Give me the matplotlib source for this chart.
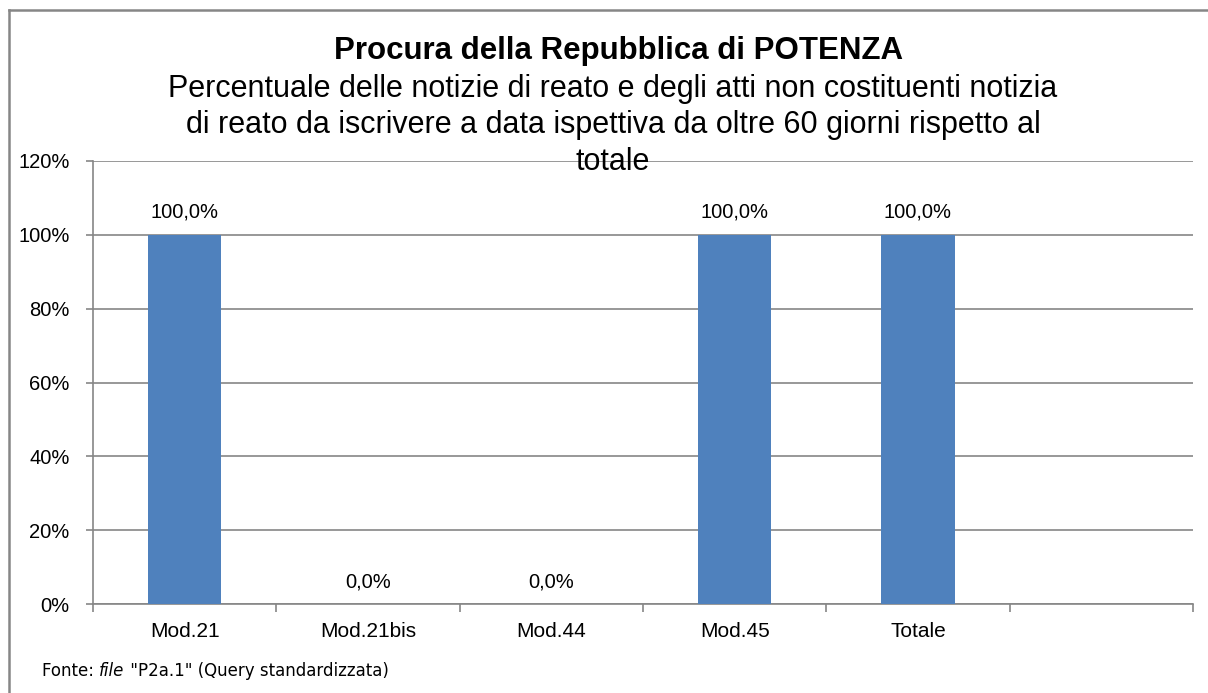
import numpy as np
import matplotlib.pyplot as plt
from matplotlib.lines import Line2D
from matplotlib.ticker import FuncFormatter

categories = ["Mod.21", "Mod.21bis", "Mod.44", "Mod.45", "Totale"]
values = [100.0, 0.0, 0.0, 100.0, 100.0]
n_slots = 6  # Excel leaves an empty sixth slot at the right

title = "Procura della Repubblica di POTENZA"
subtitle_lines = ["Percentuale delle notizie di reato e degli atti non costituenti notizia",
                  "di reato da iscrivere a data ispettiva da oltre 60 giorni rispetto al",
                  "totale"]
source_parts = ["Fonte: ", "file", ' "P2a.1" (Query standardizzata)']

plt.rcParams['font.family'] = ['Liberation Sans', 'DejaVu Sans']
grey = "#868686"
W, H = 1208, 693

fig = plt.figure(figsize=(W / 100, H / 100), dpi=100)
ax = fig.add_axes([93 / W, 1 - 604 / H, 1100 / W, 443 / H])

x = np.arange(len(categories))
ax.bar(x, values, width=0.4, color="#4F81BD", zorder=3)
for xi, v in zip(x, values):
    ax.text(xi, v + 4.6, f"{v:.1f}%".replace(".", ","), ha="center", va="baseline",
            fontsize=14.5, zorder=4)

ax.set_xlim(-0.5, n_slots - 0.5)
ax.set_ylim(0, 120)
ax.set_yticks(np.arange(0, 121, 20))
ax.yaxis.set_major_formatter(FuncFormatter(lambda v, p: f"{v:.0f}%"))
ax.set_xticks(x)
ax.set_xticklabels(categories)
ax.set_xticks(np.arange(-0.5, n_slots), minor=True)
ax.tick_params(axis="x", which="major", length=0, pad=13, labelsize=15)
ax.tick_params(axis="x", which="minor", length=6, color=grey, width=1.2)
ax.tick_params(axis="y", length=5, color=grey, width=1.2, labelsize=14.5, pad=12)
ax.grid(axis="y", color=grey, linewidth=1.2, zorder=0)
for s in ["top", "right"]:
    ax.spines[s].set_visible(False)
for s in ["left", "bottom"]:
    ax.spines[s].set_color(grey)
    ax.spines[s].set_linewidth(1.2)

fig.text(619 / W, 1 - 59 / H, title, ha="center", va="baseline",
         fontsize=22.5, fontweight="bold")
for line, base in zip(subtitle_lines, [97, 133.5, 170]):
    fig.text(613 / W, 1 - base / H, line, ha="center", va="baseline", fontsize=22)

# source note, with "file" in italics
fig.canvas.draw()
r = fig.canvas.get_renderer()
xpos = 42 / W
for part in source_parts:
    t = fig.text(xpos, 1 - 676 / H, part, ha="left", va="baseline", fontsize=12,
                 style="italic" if part == "file" else "normal",
                 family=["DejaVu Sans"])
    bb = t.get_window_extent(r)
    xpos = bb.x1 / fig.bbox.width

# chart area border (top and left edges visible in the crop)
fig.add_artist(Line2D([8.5 / W, 8.5 / W], [0, 1 - 9.5 / H],
                      transform=fig.transFigure, color=grey, linewidth=1.8))
fig.add_artist(Line2D([8.5 / W, 1], [1 - 9.5 / H, 1 - 9.5 / H],
                      transform=fig.transFigure, color=grey, linewidth=1.8))

fig.savefig("out.png", dpi=100)
